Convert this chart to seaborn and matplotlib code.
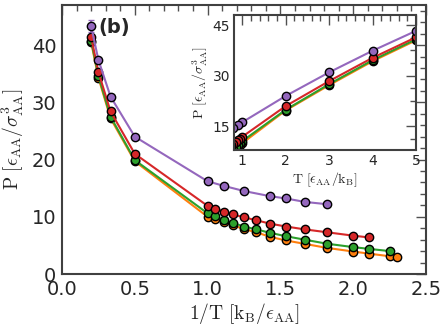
import matplotlib
matplotlib.use("Agg")
import matplotlib.pyplot as plt
import seaborn as sns
import pandas as pd
from matplotlib.ticker import AutoMinorLocator, MultipleLocator

# ---- data ----
T_purple = [5, 4, 3, 2, 1, 0.9, 0.8, 0.7, 0.65, 0.6, 0.55]
P_purple = [43.3, 37.4, 31.0, 24.0, 16.2, 15.4, 14.5, 13.6, 13.2, 12.6, 12.2]
E_purple = [1.0, 0.3, 0.2, 0.2, 0.1, 0.1, 0.1, 0.1, 0.1, 0.1, 0.1]

T_red = [5, 4, 3, 2, 1, 0.95, 0.9, 0.85, 0.8, 0.75, 0.7, 0.65, 0.6, 0.55, 0.5, 0.475]
P_red = [41.4, 35.3, 28.4, 21.0, 11.9, 11.4, 10.9, 10.4, 9.9, 9.4, 8.8, 8.3, 7.8, 7.3, 6.7, 6.4]

T_green = [5, 4, 3, 2, 1, 0.95, 0.9, 0.85, 0.8, 0.75, 0.7, 0.65, 0.6, 0.55, 0.5, 0.475, 0.444]
P_green = [40.8, 34.6, 27.5, 19.9, 10.6, 10.1, 9.4, 8.9, 8.3, 7.8, 7.2, 6.6, 6.0, 5.3, 4.7, 4.4, 4.0]

T_orange = [5, 4, 3, 2, 1, 0.95, 0.9, 0.85, 0.8, 0.75, 0.7, 0.65, 0.6, 0.55, 0.5, 0.475, 0.444, 0.434]
P_orange = [40.5, 34.3, 27.2, 19.7, 10.0, 9.6, 9.1, 8.5, 7.84, 7.3, 6.5, 5.86, 5.27, 4.57, 3.93, 3.57, 3.1, 2.95]

series = [
    ("orange", T_orange, P_orange, "#ff7f0e"),
    ("green", T_green, P_green, "#2ca02c"),
    ("red", T_red, P_red, "#d62728"),
    ("purple", T_purple, P_purple, "#9467bd"),
]
frames = []
for name, T, P, c in series:
    frames.append(pd.DataFrame({"name": name, "T": T, "invT": [1.0 / t for t in T], "P": P}))
df = pd.concat(frames, ignore_index=True)
palette = {name: c for name, _, _, c in series}

sns.set_style("white")
plt.rcParams["mathtext.fontset"] = "cm"
plt.rcParams["font.family"] = ["DejaVu Sans"]

spine_c = "#404040"
tick_c = "#505050"

fig = plt.figure(figsize=(4.48, 3.28), dpi=100)
ax = fig.add_axes([0.1384, 0.1646, 0.8125, 0.8201])

mk = dict(marker="o", markersize=6, markeredgecolor="black", markeredgewidth=1.0, linewidth=1.5)

for name, T, P, c in series:
    sub = df[df["name"] == name]
    sns.lineplot(data=sub, x="invT", y="P", color=c, sort=False, ax=ax, legend=False, **mk)

sub = df[df["name"] == "purple"]
ax.errorbar(sub["invT"], sub["P"], yerr=E_purple, fmt="none", ecolor="#9467bd", elinewidth=1.2, capsize=2, zorder=1)

ax.set_xlim(0, 2.5)
ax.set_ylim(0, 47)
ax.xaxis.set_major_locator(MultipleLocator(0.5))
ax.yaxis.set_major_locator(MultipleLocator(10))
ax.xaxis.set_minor_locator(AutoMinorLocator())
ax.yaxis.set_minor_locator(AutoMinorLocator())
ax.tick_params(which="both", direction="in", top=True, right=True, color=tick_c, width=1.0, labelsize=14, pad=4)
ax.tick_params(which="major", length=7)
ax.tick_params(which="minor", length=4)
for s in ax.spines.values():
    s.set_color(spine_c)
    s.set_linewidth(1.5)
ax.set_xlabel(r"$\mathrm{1/T\ [k_B/\epsilon_{AA}]}$", fontsize=14, labelpad=2)
ax.set_ylabel(r"$\mathrm{P\ [\epsilon_{AA}/\sigma^3_{AA}]}$", fontsize=14, labelpad=4)
ax.text(0.143, 0.918, "(b)", transform=ax.transAxes, fontsize=14, fontweight="bold", ha="center", va="center")

# ---- inset ----
ins = fig.add_axes([0.523, 0.5427, 0.4056, 0.4116])
ins.set_facecolor("white")
for name, T, P, c in series:
    sub = df[df["name"] == name]
    sns.lineplot(data=sub, x="T", y="P", color=c, sort=False, ax=ins, legend=False, **mk)
ins.set_xlim(0.82, 5)
ins.set_ylim(8, 48)
ins.xaxis.set_major_locator(MultipleLocator(1))
ins.yaxis.set_major_locator(MultipleLocator(15))
ins.xaxis.set_minor_locator(AutoMinorLocator())
ins.yaxis.set_minor_locator(AutoMinorLocator())
ins.tick_params(which="both", direction="in", top=True, right=True, color=tick_c, width=1.0, labelsize=10, pad=3)
ins.tick_params(which="major", length=7)
ins.tick_params(which="minor", length=4)
for s in ins.spines.values():
    s.set_color(spine_c)
    s.set_linewidth(1.5)
ins.set_xlabel(r"$\mathrm{T\ [\epsilon_{AA}/k_B]}$", fontsize=10, labelpad=2)
ins.set_ylabel(r"$\mathrm{P\ [\epsilon_{AA}/\sigma^3_{AA}]}$", fontsize=10, labelpad=2)

fig.savefig("out.png", dpi=100)
